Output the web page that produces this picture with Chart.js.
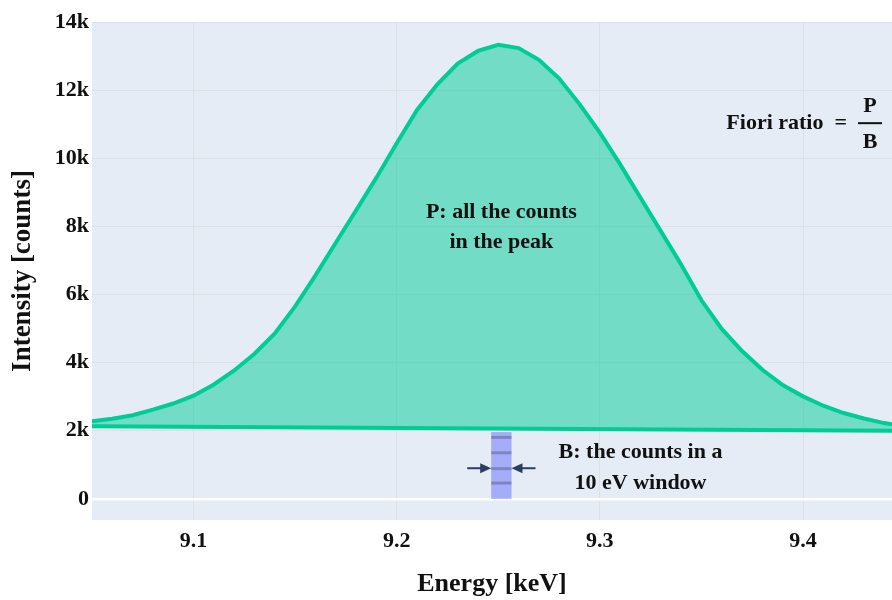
<!DOCTYPE html>
<html>
<head>
<meta charset="utf-8">
<script src="https://cdn.jsdelivr.net/npm/chart.js@4"></script>
<style>
  html, body { margin: 0; padding: 0; background: #fff; }
  #wrap { width: 892px; height: 600px; }
</style>
</head>
<body>
<div id="wrap"><canvas id="chart" width="892" height="600"></canvas></div>
<script>
// peak spectrum (keV, counts)
const energy = [9.05, 9.06, 9.07, 9.08, 9.09, 9.10, 9.11, 9.12, 9.13, 9.14,
  9.15, 9.16, 9.17, 9.18, 9.19, 9.20, 9.21, 9.22, 9.23, 9.24,
  9.25, 9.26, 9.27, 9.28, 9.29, 9.30, 9.31, 9.32, 9.33, 9.34,
  9.35, 9.36, 9.37, 9.38, 9.39, 9.40, 9.41, 9.42, 9.43, 9.44, 9.45];
const counts = [2280, 2350, 2455, 2620, 2800, 3030, 3360, 3770, 4260, 4860,
  5650, 6560, 7520, 8470, 9430, 10440, 11420, 12170, 12780, 13150,
  13330, 13235, 12890, 12340, 11590, 10750, 9820, 8840, 7860, 6880,
  5830, 4990, 4340, 3790, 3340, 3010, 2735, 2520, 2360, 2225, 2130];

// background line under the peak
const bgEnergy = [9.05, 9.45];
const bgCounts = [2130, 1997];

// 10 eV window
const windowEdges = [9.2465, 9.2565];
const windowTop = 1960;
const windowStripes = [1806, 1353, 888, 465];

const xTicks = [9.1, 9.2, 9.3, 9.4];
const yTicks = [0, 2000, 4000, 6000, 8000, 10000, 12000, 14000];

const serif = "'Liberation Serif', 'DejaVu Serif', serif";
const ink = '#111';
const arrowColor = '#2a3f5f';

const notes = {
  id: 'notes',
  afterDatasetsDraw(chart) {
    const ctx = chart.ctx;
    const xs = chart.scales.x, ys = chart.scales.y;
    const x0 = xs.getPixelForValue(windowEdges[0]);
    const x1 = xs.getPixelForValue(windowEdges[1]);
    const yTop = ys.getPixelForValue(windowTop);
    const yBot = ys.getPixelForValue(0);

    ctx.save();
    // window rectangle
    ctx.fillStyle = 'rgba(99,110,250,0.5)';
    ctx.fillRect(x0, yTop, x1 - x0, yBot - yTop);
    ctx.fillStyle = 'rgba(80,85,130,0.45)';
    windowStripes.forEach(v => {
      const y = ys.getPixelForValue(v);
      ctx.fillRect(x0, y - 1.5, x1 - x0, 3);
    });

    // arrows pointing at the window
    const ay = ys.getPixelForValue(900);
    ctx.strokeStyle = arrowColor;
    ctx.fillStyle = arrowColor;
    ctx.lineWidth = 2;
    function arrow(fromX, toX) {
      const dir = Math.sign(toX - fromX);
      ctx.beginPath();
      ctx.moveTo(fromX, ay);
      ctx.lineTo(toX - dir * 8, ay);
      ctx.stroke();
      ctx.beginPath();
      ctx.moveTo(toX, ay);
      ctx.lineTo(toX - dir * 11, ay - 5);
      ctx.lineTo(toX - dir * 11, ay + 5);
      ctx.closePath();
      ctx.fill();
    }
    arrow(x0 - 24, x0);
    arrow(x1 + 24, x1);

    // text notes
    ctx.fillStyle = ink;
    ctx.font = 'bold 22px ' + serif;
    ctx.textAlign = 'center';
    ctx.textBaseline = 'middle';
    const px = xs.getPixelForValue(9.2515);
    ctx.fillText('P: all the counts', px, ys.getPixelForValue(8410));
    ctx.fillText('in the peak', px, ys.getPixelForValue(7530));

    const bx = xs.getPixelForValue(9.32);
    ctx.fillText('B: the counts in a', bx, ys.getPixelForValue(1380));
    ctx.fillText('10 eV window', bx, ys.getPixelForValue(470));

    // Fiori ratio = P / B
    const fy = ys.getPixelForValue(11030);
    ctx.textAlign = 'right';
    ctx.fillText('Fiori ratio  =', 847, fy);
    ctx.textAlign = 'center';
    ctx.fillText('P', 870, fy - 17);
    ctx.fillText('B', 870, fy + 19);
    ctx.fillRect(858, fy - 1, 24, 2);
    ctx.restore();
  }
};

new Chart(document.getElementById('chart'), {
  type: 'line',
  data: {
    datasets: [
      {
        data: energy.map((e, i) => ({ x: e, y: counts[i] })),
        borderColor: '#00cc96',
        borderWidth: 4,
        backgroundColor: 'rgba(0,204,150,0.5)',
        fill: { target: 1 },
        pointRadius: 0,
        tension: 0,
        clip: { left: 0, right: 0, top: 6, bottom: 6 }
      },
      {
        data: bgEnergy.map((e, i) => ({ x: e, y: bgCounts[i] })),
        borderColor: '#00cc96',
        borderWidth: 4,
        fill: false,
        pointRadius: 0,
        clip: { left: 0, right: 0, top: 6, bottom: 6 }
      }
    ]
  },
  options: {
    responsive: false,
    animation: false,
    events: [],
    layout: { padding: { top: 22, right: 0, left: 0, bottom: 0 } },
    plugins: {
      legend: { display: false },
      tooltip: { enabled: false },
      filler: { drawTime: 'beforeDatasetsDraw' }
    },
    scales: {
      x: {
        type: 'linear',
        min: 9.05,
        max: 9.4438,
        afterFit: s => { s.height = 80; },
        afterBuildTicks: s => { s.ticks = xTicks.map(v => ({ value: v })); },
        ticks: {
          color: ink,
          padding: 8,
          font: { family: serif, size: 22, weight: 'bold' },
          callback: v => v.toFixed(1)
        },
        grid: { color: '#dde0e4', lineWidth: 1, drawTicks: false },
        border: { display: false },
        title: {
          display: true,
          text: 'Energy [keV]',
          color: ink,
          font: { family: serif, size: 26, weight: 'bold' },
          padding: 0
        }
      },
      y: {
        min: -620,
        max: 14000,
        afterFit: s => { s.width = 92; },
        afterBuildTicks: s => { s.ticks = yTicks.map(v => ({ value: v })); },
        ticks: {
          color: ink,
          padding: 3,
          font: { family: serif, size: 22, weight: 'bold' },
          callback: v => v === 0 ? '0' : (v / 1000) + 'k'
        },
        grid: {
          color: c => c.tick && c.tick.value === 0 ? '#ffffff' : '#dde0e4',
          lineWidth: c => c.tick && c.tick.value === 0 ? 2.5 : 1,
          drawTicks: false
        },
        border: { display: false },
        title: {
          display: true,
          text: 'Intensity [counts]',
          color: ink,
          font: { family: serif, size: 27, weight: 'bold' },
          padding: { top: 7, bottom: 0 }
        }
      }
    }
  },
  plugins: [{
    id: 'bg',
    beforeDraw(chart) {
      const a = chart.chartArea;
      chart.ctx.save();
      chart.ctx.fillStyle = '#e5ecf6';
      chart.ctx.fillRect(a.left, a.top, a.right - a.left, a.bottom - a.top);
      chart.ctx.restore();
    }
  }, notes]
});
</script>
</body>
</html>
